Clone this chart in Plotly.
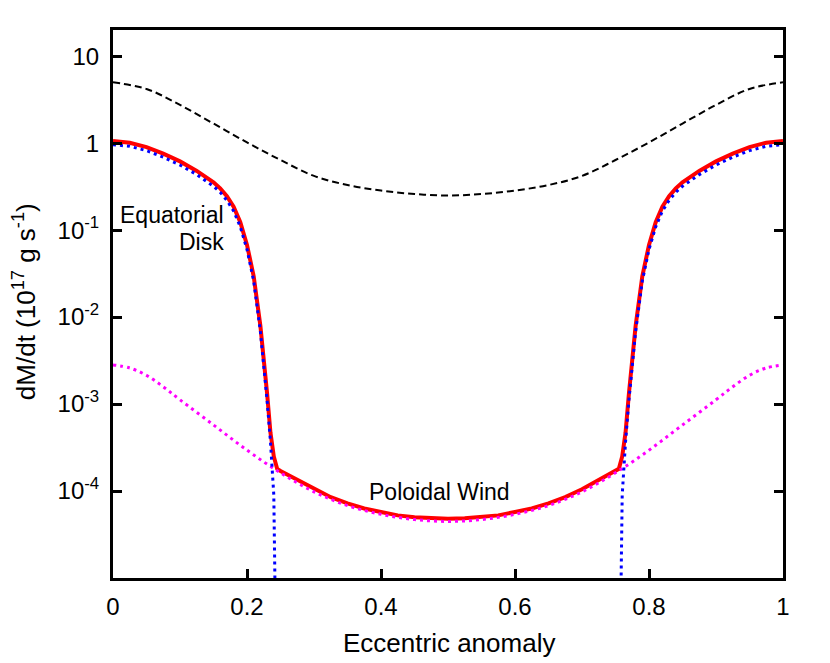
import plotly.graph_objects as go

# eccentric anomaly grid for the dashed curve
x_smooth = [0, 0.05, 0.1, 0.15, 0.2, 0.25, 0.3, 0.35, 0.4, 0.45, 0.5,
            0.55, 0.6, 0.65, 0.7, 0.75, 0.8, 0.85, 0.9, 0.95, 1]
dashed_total = [5.0, 4.2, 2.75, 1.68, 1.02, 0.64, 0.42, 0.33, 0.285, 0.26, 0.25,
                0.26, 0.285, 0.33, 0.42, 0.64, 1.02, 1.68, 2.75, 4.2, 5.0]

# poloidal wind (magenta dotted)
x_wind = [0, 0.025, 0.05, 0.075, 0.1, 0.15, 0.2, 0.25, 0.3, 0.35, 0.4, 0.45, 0.5,
          0.55, 0.6, 0.65, 0.7, 0.75, 0.8, 0.85, 0.9, 0.925, 0.95, 0.975, 1]
wind = [2.82e-3, 2.6e-3, 2.14e-3, 1.58e-3, 1.12e-3, 5.75e-4, 2.95e-4, 1.62e-4, 9.8e-5, 6.8e-5, 5.4e-5, 4.7e-5, 4.47e-5,
        4.7e-5, 5.4e-5, 6.8e-5, 9.8e-5, 1.62e-4, 2.95e-4, 5.75e-4, 1.12e-3, 1.58e-3, 2.14e-3, 2.6e-3, 2.82e-3]

# equatorial disk (blue dotted)
x_disk = [0, 0.025, 0.05, 0.075, 0.1, 0.125, 0.15, 0.16, 0.17, 0.18, 0.19, 0.2, 0.21, 0.22, 0.23, 0.235, 0.24, 0.2425,
          0.7575, 0.76, 0.765, 0.77, 0.78, 0.79, 0.8, 0.81, 0.82, 0.83, 0.84, 0.85, 0.875, 0.9, 0.925, 0.95, 0.975, 1]
disk = [0.96, 0.92, 0.82, 0.69, 0.56, 0.435, 0.32, 0.272, 0.22, 0.166, 0.109, 0.06, 0.026, 6.8e-3, 1.1e-3, 3.7e-4, 9e-5, 3e-6,
        3e-6, 9e-5, 3.7e-4, 1.1e-3, 6.8e-3, 0.026, 0.06, 0.109, 0.166, 0.22, 0.272, 0.32, 0.435, 0.56, 0.69, 0.82, 0.92, 0.96]

# sum (red solid)
x_sum = [0, 0.025, 0.05, 0.075, 0.1, 0.125, 0.15, 0.16, 0.17, 0.18, 0.19, 0.2, 0.21, 0.22, 0.23, 0.235, 0.24, 0.245,
         0.25, 0.275, 0.3, 0.325, 0.35, 0.375, 0.4, 0.425, 0.45, 0.475, 0.5,
         0.525, 0.55, 0.575, 0.6, 0.625, 0.65, 0.675, 0.7, 0.725, 0.75,
         0.755, 0.76, 0.765, 0.77, 0.78, 0.79, 0.8, 0.81, 0.82, 0.83, 0.84, 0.85, 0.875, 0.9, 0.925, 0.95, 0.975, 1]
total = [1.059, 1.012, 0.902, 0.759, 0.617, 0.479, 0.355, 0.302, 0.245, 0.186, 0.123, 0.0676, 0.0295, 7.9e-3, 1.32e-3, 4.7e-4, 2.5e-4, 1.8e-4,
         1.7e-4, 1.35e-4, 1.05e-4, 8.5e-5, 7.2e-5, 6.3e-5, 5.75e-5, 5.25e-5, 5.0e-5, 4.85e-5, 4.8e-5,
         4.85e-5, 5.0e-5, 5.25e-5, 5.75e-5, 6.3e-5, 7.2e-5, 8.5e-5, 1.05e-4, 1.35e-4, 1.7e-4,
         1.8e-4, 2.5e-4, 4.7e-4, 1.32e-3, 7.9e-3, 0.0295, 0.0676, 0.123, 0.186, 0.245, 0.302, 0.355, 0.479, 0.617, 0.759, 0.902, 1.012, 1.059]

x_ticks = [0, 0.2, 0.4, 0.6, 0.8, 1]
x_ticktext = ["0", "0.2", "0.4", "0.6", "0.8", "1"]
y_ticks = [10, 1, 0.1, 0.01, 0.001, 0.0001]
y_ticktext = ["10", "1", "10<sup>-1</sup>", "10<sup>-2</sup>", "10<sup>-3</sup>", "10<sup>-4</sup>"]

FONT = "Liberation Sans, Arial, sans-serif"

fig = go.Figure()
fig.add_trace(go.Scatter(x=x_smooth, y=dashed_total, mode="lines", line_shape="spline",
                         line=dict(color="black", width=2, dash="7px,4px")))
fig.add_trace(go.Scatter(x=x_sum, y=total, mode="lines",
                         line=dict(color="#ff0000", width=4)))
fig.add_trace(go.Scatter(x=x_wind, y=wind, mode="lines", line_shape="spline",
                         line=dict(color="#ff00ff", width=3, dash="3px,4px")))
fig.add_trace(go.Scatter(x=x_disk, y=disk, mode="lines",
                         line=dict(color="#0000ff", width=3, dash="3px,4px")))

# page body has an 8px margin, so the figure box is shifted by that much
fig.update_layout(
    width=830, height=663,
    margin=dict(l=105, r=55, t=22, b=93),
    plot_bgcolor="white", paper_bgcolor="white",
    showlegend=False,
    font=dict(family=FONT, size=24, color="black"),
)
fig.update_xaxes(range=[0, 1], tickvals=x_ticks, ticktext=x_ticktext,
                 ticks="inside", ticklen=9, tickwidth=2.5, tickcolor="black",
                 showline=True, linecolor="black", linewidth=3, mirror=True,
                 showgrid=False, zeroline=False, ticklabelstandoff=5)
fig.update_yaxes(type="log", range=[-5, 1.30103], tickvals=y_ticks, ticktext=y_ticktext,
                 ticks="inside", ticklen=9, tickwidth=2.5, tickcolor="black",
                 showline=True, linecolor="black", linewidth=3, mirror="ticks",
                 showgrid=False, zeroline=False, ticklabelstandoff=6)

fig.add_annotation(x=0.502, y=-0.119, xref="paper", yref="paper", text="Eccentric anomaly",
                   showarrow=False, xanchor="center", yanchor="middle", font=dict(size=26))
fig.add_annotation(x=-0.133, y=0.505, xref="paper", yref="paper",
                   text="dM/dt (10<sup>17</sup> g s<sup>-1</sup>)", textangle=-90,
                   showarrow=False, xanchor="center", yanchor="middle", font=dict(size=26))
fig.add_annotation(x=0.168, y=-0.828, text="Equatorial", showarrow=False,
                   xanchor="right", yanchor="middle", font=dict(size=23))
fig.add_annotation(x=0.168, y=-1.14, text="Disk", showarrow=False,
                   xanchor="right", yanchor="middle", font=dict(size=23))
fig.add_annotation(x=0.488, y=-4.01, text="Poloidal Wind", showarrow=False,
                   xanchor="center", yanchor="middle", font=dict(size=23))

fig.write_html("out.html")
